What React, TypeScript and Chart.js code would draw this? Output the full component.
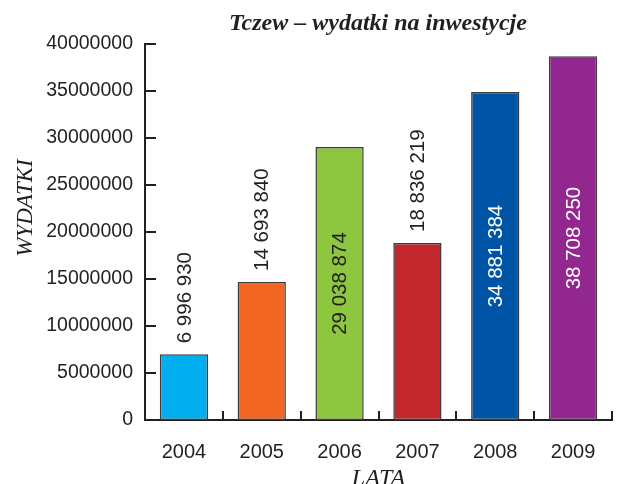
import { useEffect, useRef } from 'react';
import { Chart, registerables } from 'chart.js';

Chart.register(...registerables);

const years = ['2004', '2005', '2006', '2007', '2008', '2009'];
const expenditures = [6996930, 14693840, 29038874, 18836219, 34881384, 38708250];
const barColors = ['#00aeef', '#f26522', '#8dc63f', '#c1272d', '#0054a6', '#92278f'];
const labelInside = [false, false, true, false, true, true];
const labelColors = ['#231f20', '#231f20', '#231f20', '#231f20', '#ffffff', '#ffffff'];
const yMin = 0;
const yMax = 40000000;
const yStep = 5000000;
const chartTitle = 'Tczew – wydatki na inwestycje';
const yTitle = 'WYDATKI';
const xTitle = 'LATA';

const INK = '#231f20';
const SANS = '"Liberation Sans", Arial, sans-serif';
const SERIF = '"Liberation Serif", "Times New Roman", serif';

const fmt = (v: number) => String(v).replace(/\B(?=(\d{3})+(?!\d))/g, ' ');

const decor = {
  id: 'decor',
  afterDraw(chart: any) {
    const { ctx, chartArea, scales } = chart;
    const xs = scales.x;
    const ys = scales.y;
    ctx.save();
    ctx.strokeStyle = INK;
    ctx.lineWidth = 2;
    ys.ticks.forEach((t: any) => {
      const py = Math.round(ys.getPixelForValue(t.value));
      ctx.beginPath();
      ctx.moveTo(chartArea.left, py);
      ctx.lineTo(chartArea.left + 11, py);
      ctx.stroke();
    });
    for (let i = 0; i < years.length; i++) {
      const px = Math.round(xs.getPixelForValue(i + 0.5));
      ctx.beginPath();
      ctx.moveTo(px, chartArea.bottom);
      ctx.lineTo(px, chartArea.bottom - 9);
      ctx.stroke();
    }

    // value labels
    const meta = chart.getDatasetMeta(0);
    ctx.font = `20.5px ${SANS}`;
    meta.data.forEach((bar: any, i: number) => {
      const text = fmt(expenditures[i]);
      ctx.save();
      ctx.fillStyle = labelColors[i];
      ctx.textBaseline = 'middle';
      if (labelInside[i]) {
        ctx.translate(bar.x + 1, (bar.y + bar.base) / 2);
        ctx.rotate(-Math.PI / 2);
        ctx.textAlign = 'center';
        ctx.fillText(text, 0, 0);
      } else {
        ctx.translate(bar.x + 1, bar.y - 11);
        ctx.rotate(-Math.PI / 2);
        ctx.textAlign = 'left';
        ctx.fillText(text, 0, 0);
      }
      ctx.restore();
    });

    // titles
    ctx.fillStyle = INK;
    ctx.textAlign = 'center';
    ctx.textBaseline = 'alphabetic';
    ctx.font = `italic bold 24px ${SERIF}`;
    ctx.fillText(chartTitle, 378, 30);

    ctx.font = `italic 24px ${SERIF}`;
    ctx.fillText(xTitle, (chartArea.left + chartArea.right) / 2, 485);

    ctx.save();
    ctx.translate(32, 208);
    ctx.rotate(-Math.PI / 2);
    ctx.font = `italic 23px ${SERIF}`;
    ctx.fillText(yTitle, 0, 0);
    ctx.restore();

    ctx.restore();
  },
};

export default function App() {
  const ref = useRef<HTMLCanvasElement | null>(null);

  useEffect(() => {
    if (!ref.current) return;
    const chart = new Chart(ref.current, {
      type: 'bar',
      data: {
        labels: years,
        datasets: [
          {
            data: expenditures,
            backgroundColor: barColors,
            borderColor: '#3a3a3a',
            borderWidth: 1.5,
            borderSkipped: false,
            categoryPercentage: 1,
            barPercentage: 0.62,
          },
        ],
      },
      options: {
        responsive: false,
        animation: false,
        layout: { padding: { left: 0, right: 5, top: 44, bottom: 0 } },
        plugins: { legend: { display: false }, title: { display: false }, tooltip: { enabled: false } },
        scales: {
          x: {
            offset: true,
            grid: { display: false, drawTicks: false },
            border: { display: true, color: INK, width: 2 },
            ticks: { color: INK, font: { family: SANS, size: 20 }, padding: 20 },
            afterFit: (s: any) => {
              s.height = 64;
            },
          },
          y: {
            min: yMin,
            max: yMax,
            grid: { display: false, drawTicks: false },
            border: { display: true, color: INK, width: 2 },
            ticks: {
              stepSize: yStep,
              color: INK,
              font: { family: SANS, size: 19.5 },
              padding: 12,
              callback: (v: any) => String(v),
            },
            afterFit: (s: any) => {
              s.width = 145;
            },
          },
        },
      },
      plugins: [decor],
    });
    return () => chart.destroy();
  }, []);

  return (
    <div style={{ position: 'absolute', left: 0, top: 0, width: 617, height: 484, background: '#fff' }}>
      <canvas ref={ref} width={617} height={484} />
    </div>
  );
}
